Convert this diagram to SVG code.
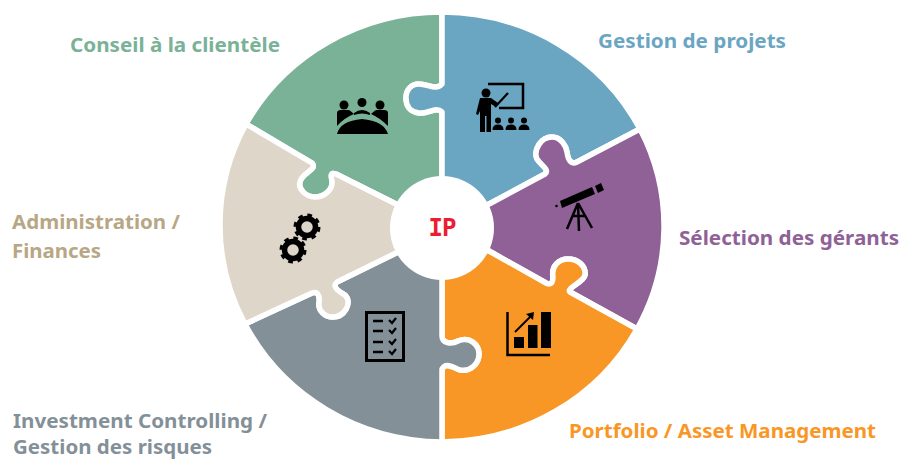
<svg xmlns="http://www.w3.org/2000/svg" width="899" height="459" viewBox="0 0 899 459">
<style>
.s{stroke:#fff;stroke-width:5.500;stroke-linejoin:round}
.t{font-family:"Noto Sans",sans-serif;font-weight:700;font-size:20px}
.k{fill:#000}
.l{fill:none;stroke:#000}
</style>
<rect width="899" height="459" fill="#fff"/>
<g id="connectors"></g>
<g id="conseil">
<path class="s" fill="#7AB297" d="M442 228L392 202L336 174C330 172 331 176 332 181C333 190 324 197 315 197C305 197 298 188 300 182C302 172 318 170 312 163L246 124A223.500 215.500 0 0 1 442 12L442 84C436 91 428 84 419 84C411 84 406 90 406 98C406 105 409 112 419 113C428 114 436 106 442 112Z"/>
<circle class="k" cx="344" cy="105" r="4.500"/><circle class="k" cx="362" cy="102.500" r="4.500"/><circle class="k" cx="380" cy="105" r="4.500"/>
<path class="k" d="M337 113Q337 110 341 110L349 110Q352 112 354 114Q344 118 337 126ZM354 113Q362 107 370 113L370 115Q362 112 354 115ZM371 114Q373 112 376 110L384 110Q388 110 388 113L388 126Q380 118 371 114Z"/>
<path class="k" d="M337 134Q340 121 362 119Q384 121 388 134Z"/>
<text class="t" x="70" y="52" fill="#7AB297" textLength="210" lengthAdjust="spacingAndGlyphs">Conseil à la clientèle</text>
</g>
<g id="gestion-projets">
<path class="s" fill="#6AA5C2" d="M442 12A223.500 215.500 0 0 1 640 129L577 162C571 165 568 160 567 152C566 146 561 137 552 137C541 137 533 150 537 159C541 165 550 170 545 174L491 203L442 228L442 112C436 106 428 114 419 113C409 112 406 105 406 98C406 90 411 84 419 84C428 84 436 91 442 84Z"/>
<path class="l" stroke-width="2.500" d="M488 84L523 84L523 108L499 108"/>
<path class="l" stroke-width="2.200" d="M495 107L508 93"/>
<circle class="k" cx="486" cy="93" r="4.500"/>
<path class="k" d="M480 98L491 98L498 103L496 107L491 104L491 132L486.500 132L486.500 116L485 116L485 132L480 132L480 111L478 115L476 114Z"/>
<circle class="k" cx="498" cy="120.500" r="3"/><circle class="k" cx="511" cy="120.500" r="3"/><circle class="k" cx="524" cy="120.500" r="3"/>
<path class="k" d="M492.500 130Q492.500 124.500 498 124.500Q503.500 124.500 503.500 130ZM505.500 130Q505.500 124.500 511 124.500Q516.500 124.500 516.500 130ZM518.500 130Q518.500 124.500 524 124.500Q529.500 124.500 529.500 130Z"/>
<text class="t" x="598" y="48" fill="#6AA5C2" textLength="188" lengthAdjust="spacingAndGlyphs">Gestion de projets</text>
</g>
<g id="selection">
<path class="s" fill="#8F6197" d="M442 228L491 203L545 174C550 170 541 165 537 159C533 150 541 137 552 137C561 137 566 146 567 152C568 160 571 165 577 162L640 129A223.500 215.500 0 0 1 637 329L570 292C566 288 584 282 585 275C586 266 578 259 568 259C559 259 551 266 553 277C553 281 552 286 546 283L489 251Z"/>
<path class="k" d="M560 201L592 187L595 194L562 208Z"/>
<path class="k" d="M595 186L601 183L604 190L598 193Z"/>
<circle class="k" cx="556.500" cy="206" r="1.300"/>
<path class="l" stroke-width="2.500" d="M578 203L567 229M578 203L579 231M578 203L592 228M572 216L586 216"/>
<text class="t" x="679" y="245" fill="#8F6197" textLength="220" lengthAdjust="spacingAndGlyphs">Sélection des gérants</text>
</g>
<g id="portfolio">
<path class="s" fill="#F99726" d="M442 228L489 251L546 283C552 286 553 281 553 277C551 266 559 259 568 259C578 259 586 266 585 275C584 282 566 288 570 292L637 329A223.500 215.500 0 0 1 442 442L442 369C446 362 452 367 460 370C470 372 479 364 479 354C479 345 470 336 458 341C451 345 442 343 442 336Z"/>
<path class="l" stroke-width="2.500" d="M507.500 312L507.500 355L550 355"/>
<rect class="k" x="514" y="337" width="10" height="11"/><rect class="k" x="528" y="325" width="9.500" height="23"/><rect class="k" x="541" y="312" width="10" height="36"/>
<path class="l" stroke-width="2" d="M515 332L531 316"/><path class="k" d="M526 314L534 312L533 320Z"/>
<text class="t" x="569" y="438" fill="#F99726" textLength="307" lengthAdjust="spacingAndGlyphs">Portfolio / Asset Management</text>
</g>
<g id="investment">
<path class="s" fill="#839098" d="M442 228L442 336C442 343 451 345 458 341C470 336 479 345 479 354C479 364 470 372 460 370C452 367 446 362 442 369L442 442A223.500 215.500 0 0 1 245 324L312 293C318 291 320 296 319 303C318 310 324 317 333 317C344 317 353 303 345 295C340 292 331 287 337 282L396 253Z"/>
<rect class="l" stroke-width="3" x="366.500" y="312.500" width="37" height="48"/>
<path class="l" stroke-width="2.500" d="M373 321L383 321M373 331L383 331M373 342L383 342M373 352L383 352"/>
<path class="l" stroke-width="2.200" d="M389 320L392 323L396 318M389 330L392 333L396 328M389 341L392 344L396 339M389 351L392 354L396 349"/>
<text class="t" x="13" y="428" fill="#839098" font-size="19" style="font-size:19px" textLength="254" lengthAdjust="spacingAndGlyphs">Investment Controlling /</text>
<text class="t" x="13" y="454" fill="#839098" style="font-size:19px" textLength="199" lengthAdjust="spacingAndGlyphs">Gestion des risques</text>
</g>
<g id="administration">
<path class="s" fill="#DED6C8" d="M442 228L392 202L336 174C330 172 331 176 332 181C333 190 324 197 315 197C305 197 298 188 300 182C302 172 318 170 312 163L246 124A223.500 215.500 0 0 0 245 324L312 293C318 291 320 296 319 303C318 310 324 317 333 317C344 317 353 303 345 295C340 292 331 287 337 282L396 253Z"/>
<circle class="l" cx="307" cy="227" r="8.500" stroke-width="5.500"/><circle class="l" cx="307" cy="227" r="11.500" stroke-width="4" stroke-dasharray="4.500 4.530"/>
<circle class="l" cx="293" cy="250" r="8.500" stroke-width="5.500"/><circle class="l" cx="293" cy="250" r="11.500" stroke-width="4" stroke-dasharray="4.500 4.530"/>
<text class="t" x="12" y="229" fill="#B8A785" textLength="168" lengthAdjust="spacingAndGlyphs">Administration /</text>
<text class="t" x="12" y="258" fill="#B8A785" textLength="89" lengthAdjust="spacingAndGlyphs">Finances</text>
</g>
<g id="ip">
<circle cx="442" cy="228" r="52" fill="#fff"/>
<text x="442" y="236" text-anchor="middle" font-family="'DejaVu Sans Mono',monospace" font-weight="700" font-size="24" letter-spacing="-1" fill="#ED1C2E">IP</text>
</g>
</svg>
